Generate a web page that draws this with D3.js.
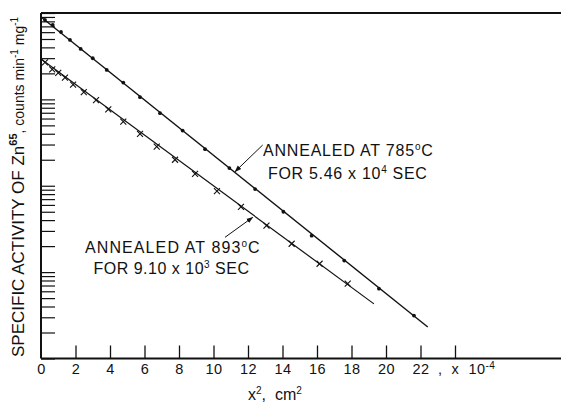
<!DOCTYPE html>
<html>
<head>
<meta charset="utf-8">
<script src="https://cdn.jsdelivr.net/npm/d3@7"></script>
<style>
body { margin: 0; background: #fff; }
text { font-family: "Liberation Sans", Arial, sans-serif; fill: #111; white-space: pre; }
</style>
</head>
<body>
<svg id="chart" width="561" height="404"></svg>
<script>
// x^2 (x 10^-4 cm^2) and specific activity, annealed at 785 C (dots)
var x785 = [0.23, 0.68, 1.16, 1.68, 2.30, 3.00, 3.81, 4.77, 5.74, 6.90, 8.21, 9.51, 10.92, 12.41, 14.05, 15.69, 17.58, 19.59, 21.62];
var act785 = [8300, 7260, 6030, 4875, 3837, 2995, 2193, 1564, 1060, 692, 435, 265, 160, 91.6, 50, 26.4, 13.6, 6.44, 3.14];

// annealed at 893 C (crosses)
var x893 = [0.23, 0.65, 1.00, 1.39, 1.86, 2.48, 3.19, 3.90, 4.77, 5.74, 6.71, 7.77, 8.93, 10.20, 11.59, 13.07, 14.53, 16.15, 17.78];
var act893 = [2680, 2222, 2025, 1786, 1479, 1215, 979, 764, 552, 399, 284, 200, 137, 86.9, 56.8, 34.5, 21.3, 12.5, 7.36];

// fitted straight lines (end points)
var fitX785 = [0, 22.42];
var fitAct785 = [9000, 2.32];
var fitX893 = [0, 19.30];
var fitAct893 = [2940, 4.29];

// x axis ticks
var xTicks = [0, 2, 4, 6, 8, 10, 12, 14, 16, 18, 20, 22, 24];
var xTickLabels = ["0", "2", "4", "6", "8", "10", "12", "14", "16", "18", "20", "22", ""];

var W = 561, H = 404;
var svg = d3.select("#chart");

var x = d3.scaleLinear().domain([0, 24]).range([41, 455]);
var y = d3.scaleLog().domain([1, 10000]).range([358.5, 13]);

// frame: top line and axes run out to the right edge
svg.append("line")
    .attr("x1", x(0)).attr("x2", W)
    .attr("y1", y(10000)).attr("y2", y(10000))
    .attr("stroke", "#111").attr("stroke-width", 2);

svg.append("line")
    .attr("x1", x(0)).attr("x2", W)
    .attr("y1", y(1)).attr("y2", y(1))
    .attr("stroke", "#111").attr("stroke-width", 2);

svg.append("line")
    .attr("x1", x(0)).attr("x2", x(0))
    .attr("y1", y(10000)).attr("y2", y(1))
    .attr("stroke", "#111").attr("stroke-width", 2);

// x axis, ticks pointing inward
var xAxis = d3.axisBottom(x)
    .tickValues(xTicks)
    .tickSize(-13)
    .tickPadding(5)
    .tickFormat(function(d, i) { return xTickLabels[i]; });

var gx = svg.append("g")
    .attr("transform", "translate(0," + y(1) + ")")
    .call(xAxis);
gx.select(".domain").remove();
gx.selectAll(".tick line").attr("stroke", "#111").attr("stroke-width", 1.3)
    .filter(function(d) { return d === 0; }).remove();
gx.selectAll(".tick text")
    .style("font-size", "14.5px")
    .style("letter-spacing", "0.5px")
    .style("font-family", "\"Liberation Sans\", Arial, sans-serif")
    .attr("fill", "#111");

// ", x 10^-4" after the last label
var unit = svg.append("text")
    .attr("x", 438)
    .attr("y", 373.5)
    .style("font-size", "14.5px")
    .style("letter-spacing", "0.5px");
unit.append("tspan").text(",  x  10");
unit.append("tspan").attr("dy", -5).style("font-size", "10px").text("-4");

// y axis, log minor ticks inward, no labels
var yAxis = d3.axisLeft(y)
    .tickSize(-14)
    .tickFormat("");
var gy = svg.append("g")
    .attr("transform", "translate(" + x(0) + ",0)")
    .call(yAxis);
gy.select(".domain").remove();
gy.selectAll(".tick line").attr("stroke", "#111").attr("stroke-width", 1.2);

// fitted lines
var line = d3.line()
    .x(function(d) { return x(d[0]); })
    .y(function(d) { return y(d[1]); });

svg.append("path")
    .datum(d3.zip(fitX785, fitAct785))
    .attr("d", line)
    .attr("fill", "none")
    .attr("stroke", "#111")
    .attr("stroke-width", 1.4);

svg.append("path")
    .datum(d3.zip(fitX893, fitAct893))
    .attr("d", line)
    .attr("fill", "none")
    .attr("stroke", "#111")
    .attr("stroke-width", 1.2);

// dots
svg.selectAll(".dot")
    .data(d3.zip(x785, act785))
    .enter()
    .append("circle")
    .attr("class", "dot")
    .attr("cx", function(d) { return x(d[0]); })
    .attr("cy", function(d) { return y(d[1]); })
    .attr("r", 1.9)
    .attr("fill", "#111");

// crosses
svg.selectAll(".cross")
    .data(d3.zip(x893, act893))
    .enter()
    .append("path")
    .attr("class", "cross")
    .attr("transform", function(d) { return "translate(" + x(d[0]) + "," + y(d[1]) + ")"; })
    .attr("d", "M-3,-3L3,3M-3,3L3,-3")
    .attr("stroke", "#111")
    .attr("stroke-width", 1.1);

// annotations
svg.append("defs").append("marker")
    .attr("id", "head")
    .attr("viewBox", "0 0 10 10")
    .attr("refX", 9).attr("refY", 5)
    .attr("markerWidth", 7).attr("markerHeight", 7)
    .attr("orient", "auto")
    .append("path")
    .attr("d", "M0,1.5L10,5L0,8.5Z")
    .attr("fill", "#111");

svg.append("line")
    .attr("x1", 262.7).attr("y1", 145)
    .attr("x2", 235).attr("y2", 171.7)
    .attr("stroke", "#111").attr("stroke-width", 1)
    .attr("marker-end", "url(#head)");

svg.append("line")
    .attr("x1", 225).attr("y1", 237.3)
    .attr("x2", 252.7).attr("y2", 217.3)
    .attr("stroke", "#111").attr("stroke-width", 1)
    .attr("marker-end", "url(#head)");

function label(x0, y0, spacing, parts) {
    var t = svg.append("text")
        .attr("x", x0).attr("y", y0)
        .style("font-size", "16px")
        .style("letter-spacing", spacing + "px");
    parts.forEach(function(p) {
        var s = t.append("tspan").text(p[0]);
        if (p[1]) s.attr("dy", p[1]);
        if (p[2]) s.style("font-size", p[2]);
    });
    return t;
}

label(263, 156, 0.8, [["ANNEALED AT 785"], ["o", -6, "10px"], ["C", 6]]);
label(268, 178.5, 0.7, [["FOR 5.46 x 10"], ["4", -6, "10px"], [" SEC", 6]]);
label(85, 252.7, 1.1, [["ANNEALED AT 893"], ["o", -6, "10px"], ["C", 6]]);
label(93.5, 273.5, 0.5, [["FOR 9.10 x 10"], ["3", -6, "10px"], [" SEC", 6]]);

// axis titles
var xt = svg.append("text")
    .attr("x", 248).attr("y", 400)
    .style("font-size", "16px");
xt.append("tspan").text("x");
xt.append("tspan").attr("dy", -6).style("font-size", "10px").text("2");
xt.append("tspan").attr("dy", 6).text(",  cm");
xt.append("tspan").attr("dy", -6).style("font-size", "10px").text("2");

var yt = svg.append("text")
    .attr("transform", "translate(24,357) rotate(-90)")
    .style("font-size", "17px");
yt.append("tspan").text("SPECIFIC ACTIVITY OF Zn");
yt.append("tspan").attr("dy", -7).style("font-size", "11px").style("font-weight", "bold").text("65");
yt.append("tspan").attr("dy", 7).style("font-size", "14px").text(", counts min");
yt.append("tspan").attr("dy", -6).style("font-size", "10px").text("-1");
yt.append("tspan").attr("dy", 6).style("font-size", "14px").text(" mg");
yt.append("tspan").attr("dy", -6).style("font-size", "10px").text("-1");
</script>
</body>
</html>
